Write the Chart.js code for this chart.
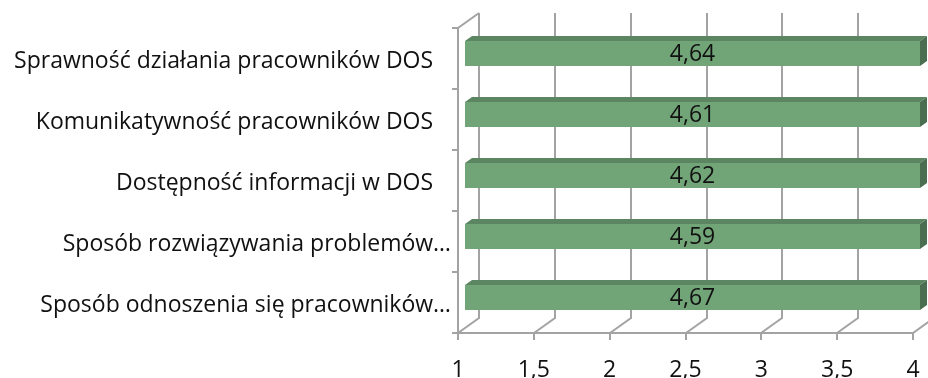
<!DOCTYPE html>
<html>
<head>
<meta charset="utf-8">
<script src="https://cdn.jsdelivr.net/npm/chart.js@4.4.1/dist/chart.umd.min.js"></script>
<style>body{margin:0;background:#fff}</style>
</head>
<body>
<canvas id="bar" width="928" height="378"></canvas>
<script>
const labels = ['Sprawność działania pracowników DOS', 'Komunikatywność pracowników DOS', 'Dostępność informacji w DOS', 'Sposób rozwiązywania problemów…', 'Sposób odnoszenia się pracowników…'];
const oceny = [4.64, 4.61, 4.62, 4.59, 4.67];
const xTicks = [1, 1.5, 2, 2.5, 3, 3.5, 4];

const FONT = '"Open Sans"';
const FSIZE = 23;
const GRID = '#a3a3a3';
const DX = 7, DY = 5;          // glebokosc slupka
const WDX = 21, WDY = 15;      // glebokosc scian

const fmt = v => String(v).replace('.', ',');

const plugin3d = {
    id: 'plugin3d',
    beforeDatasetsDraw(chart) {
        const ctx = chart.ctx, a = chart.chartArea, xs = chart.scales.x;
        ctx.save();
        ctx.strokeStyle = GRID;
        ctx.lineWidth = 2;
        ctx.beginPath();
        xTicks.forEach(v => {
            const x = Math.round(xs.getPixelForValue(v));
            ctx.moveTo(x, a.bottom);
            ctx.lineTo(x + WDX, a.bottom - WDY);
            ctx.lineTo(x + WDX, a.top - WDY);
        });
        ctx.moveTo(a.left, a.top);
        ctx.lineTo(a.left + WDX, a.top - WDY);
        ctx.stroke();
        ctx.restore();
    },
    beforeDatasetDraw(chart) {
        chart.ctx.save();
        chart.ctx.translate(DX, -DY);
    },
    afterDatasetDraw(chart, args) {
        const ctx = chart.ctx;
        ctx.restore();
        const xs = chart.scales.x;
        const xmin = xs.getPixelForValue(xs.min), xmax = xs.getPixelForValue(xs.max);
        args.meta.data.forEach((el, i) => {
            const p = el.getProps(['x', 'y', 'base', 'height'], true);
            const l = Math.max(p.base, xmin) + DX, r = Math.min(p.x, xmax) + DX;
            const t = p.y - p.height / 2 - DY, b = p.y + p.height / 2 - DY;
            // gora
            ctx.fillStyle = '#5b8661';
            ctx.beginPath();
            ctx.moveTo(l, t); ctx.lineTo(r, t); ctx.lineTo(r + DX, t - DY); ctx.lineTo(l + DX, t - DY);
            ctx.closePath(); ctx.fill();
            // bok
            ctx.fillStyle = '#4a6e4f';
            ctx.beginPath();
            ctx.moveTo(r, t); ctx.lineTo(r + DX, t - DY); ctx.lineTo(r + DX, b - DY); ctx.lineTo(r, b);
            ctx.closePath(); ctx.fill();
            // etykieta
            ctx.fillStyle = '#111';
            ctx.font = FSIZE + 'px ' + FONT;
            ctx.textAlign = 'center';
            ctx.textBaseline = 'middle';
            ctx.fillText(fmt(oceny[i]), (l + r) / 2, (t + b) / 2 + 1);
        });
    }
};

const ctx1 = document.getElementById('bar').getContext('2d');
const chart = new Chart(ctx1, {
    type: 'bar',
    data: {
        labels: labels,
        datasets: [{
            data: oceny,
            backgroundColor: '#71a477',
            borderWidth: 0,
            barPercentage: 0.41,
            categoryPercentage: 1,
        }],
    },
    options: {
        indexAxis: 'y',
        responsive: false,
        animation: false,
        devicePixelRatio: 1,
        layout: { padding: { top: 28, right: 15, left: 0, bottom: 0 } },
        plugins: { legend: { display: false }, tooltip: { enabled: false } },
        scales: {
            x: {
                type: 'linear', min: 1, max: 4,
                afterFit: s => { s.height = 45; s.paddingRight = 0; s.paddingLeft = 0; },
                ticks: {
                    stepSize: 0.5, padding: 17, color: '#111',
                    font: { family: FONT, size: FSIZE },
                    callback: v => fmt(v),
                },
                grid: { drawOnChartArea: false, tickLength: 7, color: GRID, lineWidth: 2 },
                border: { color: GRID, width: 2 },
            },
            y: {
                afterFit: s => { s.width = 458; },
                ticks: {
                    padding: 1, labelOffset: 3, color: '#111',
                    font: { family: FONT, size: FSIZE },
                    callback: function (v, i) {
                        const l = labels[i];
                        return l.endsWith('…') ? l : l + '   ';
                    },
                },
                grid: { drawOnChartArea: false, tickLength: 6, color: GRID, lineWidth: 2 },
                border: { color: GRID, width: 2 },
            },
        },
    },
    plugins: [plugin3d],
});
</script>
</body>
</html>
